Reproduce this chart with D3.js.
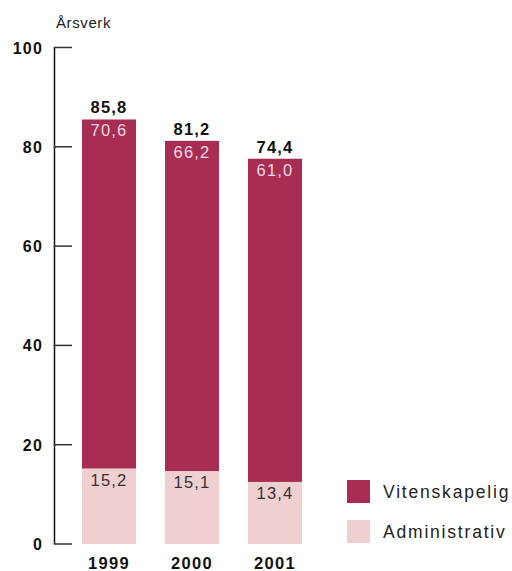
<!DOCTYPE html>
<html><head><meta charset="utf-8">
<script src="https://cdn.jsdelivr.net/npm/d3@7"></script>
<style>body{margin:0;background:#fff}svg{display:block}text{font-family:"Liberation Sans",Arial,sans-serif}</style>
</head><body>
<script>
const years = ["1999", "2000", "2001"];
// bar heights as drawn in the picture
const adminHeights = [15.2, 14.7, 12.5];
const sciHeights = [70.3, 66.5, 65.1];
// printed labels
const adminLabels = ["15,2", "15,1", "13,4"];
const sciLabels = ["70,6", "66,2", "61,0"];
const totalLabels = ["85,8", "81,2", "74,4"];
const yTicks = [0, 20, 40, 60, 80, 100];
const seriesNames = ["Vitenskapelig", "Administrativ"];
const colors = {sci: "#a82d52", admin: "#efcfcf"};

const W = 512, H = 571;
const svg = d3.select("body").append("svg").attr("width", W).attr("height", H);

const y = d3.scaleLinear().domain([0, 100]).range([544, 47.5]);
const x = d3.scaleBand().domain(years).range([40.5, 343.5]).paddingInner(0.349).paddingOuter(0.5);

// axis
const axisX = 54.5;
svg.append("line").attr("x1", axisX).attr("x2", axisX).attr("y1", y(100)).attr("y2", y(0))
  .attr("stroke", "#111").attr("stroke-width", 1.5);
const tg = svg.append("g");
tg.selectAll("line").data(yTicks).join("line")
  .attr("x1", axisX - 0.75).attr("x2", 72).attr("y1", d => y(d)).attr("y2", d => y(d))
  .attr("stroke", "#333").attr("stroke-width", 1.5);
tg.selectAll("text").data(yTicks).join("text")
  .attr("x", 43).attr("y", d => y(d) + 6).attr("text-anchor", "end")
  .attr("font-size", 16).attr("font-weight", "bold").attr("letter-spacing", 1.2).attr("fill", "#111")
  .text(d => d);

svg.append("text").attr("x", 56).attr("y", 28).attr("font-size", 15).attr("letter-spacing", 0.6)
  .attr("fill", "#222").text("Årsverk");

// bars
const bars = svg.append("g");
years.forEach((yr, i) => {
  const bx = x(yr), bw = x.bandwidth(), cx = bx + bw / 2;
  const a = adminHeights[i], s = sciHeights[i];
  bars.append("rect").attr("x", bx).attr("width", bw).attr("y", y(a)).attr("height", y(0) - y(a)).attr("fill", colors.admin);
  bars.append("rect").attr("x", bx).attr("width", bw).attr("y", y(a + s)).attr("height", y(a) - y(a + s)).attr("fill", colors.sci);
  bars.append("text").attr("x", cx).attr("y", y(a + s) - 6).attr("text-anchor", "middle")
    .attr("font-size", 16.5).attr("font-weight", "bold").attr("letter-spacing", 1.2).attr("fill", "#111").text(totalLabels[i]);
  bars.append("text").attr("x", cx).attr("y", y(a + s) + 17).attr("text-anchor", "middle")
    .attr("font-size", 16.5).attr("letter-spacing", 1.2).attr("fill", "#f6dbe2").text(sciLabels[i]);
  bars.append("text").attr("x", cx).attr("y", y(a) + 17).attr("text-anchor", "middle")
    .attr("font-size", 16.5).attr("letter-spacing", 1.2).attr("fill", "#333").text(adminLabels[i]);
  bars.append("text").attr("x", cx).attr("y", 569).attr("text-anchor", "middle")
    .attr("font-size", 16.5).attr("font-weight", "bold").attr("letter-spacing", 1.3).attr("fill", "#111").text(yr);
});

// legend
const leg = svg.append("g");
[colors.sci, colors.admin].forEach((c, i) => {
  leg.append("rect").attr("x", 347).attr("y", 480 + i * 40).attr("width", 23).attr("height", 23).attr("fill", c);
  leg.append("text").attr("x", 383).attr("y", 498 + i * 40).attr("font-size", 17.5).attr("letter-spacing", 1.8)
    .attr("fill", "#222").text(seriesNames[i]);
});
</script>
</body></html>
